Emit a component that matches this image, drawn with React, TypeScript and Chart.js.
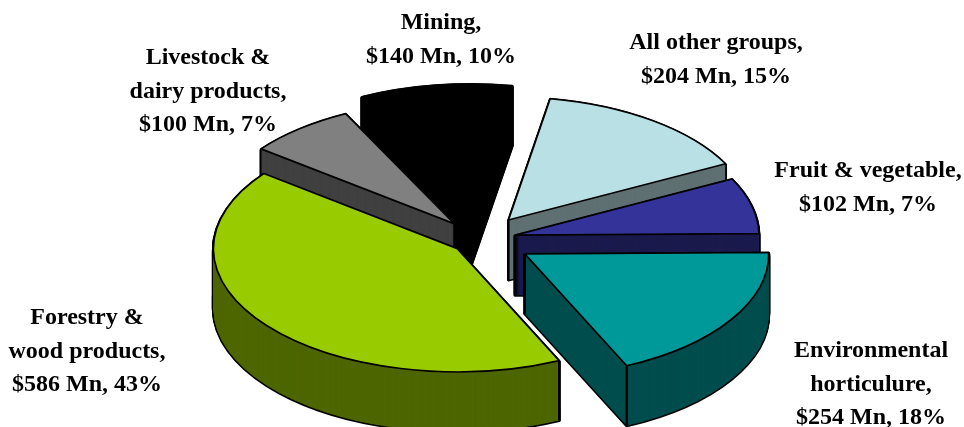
import React, { useEffect, useRef } from "react";
import { Chart, registerables } from "chart.js";

Chart.register(...registerables);

const categories = ["Mining", "All other groups", "Fruit & vegetable", "Environmental horticulure", "Forestry & wood products", "Livestock & dairy products"];
const values = [140, 204, 102, 254, 586, 100];
const percents = [10, 15, 7, 18, 43, 7];
const labelLines = [
  ["Mining,"],
  ["All other groups,"],
  ["Fruit & vegetable,"],
  ["Environmental", "horticulure,"],
  ["Forestry &", "wood products,"],
  ["Livestock &", "dairy products,"],
];
const topColors = ["#000000", "#B9E0E4", "#333399", "#009999", "#99CC00", "#808080"];
const sideColors = ["#000000", "#5F7072", "#1A1A4D", "#004D4D", "#4D6600", "#404040"];
const sliceOffsets = [65, 48, 36, 53, 29, 40];
const labelCenters = [[441, 23], [716, 43], [868, 171], [871, 351], [87, 318], [208, 58]];

const CX = 480, CY = 239.5, SQUASH = 0.505, DEPTH = 60, RADIUS = 244, LINE = 1.7, LEADING = 33.5;

const pie3d = {
  id: "pie3d",
  beforeDatasetDraw(chart: any, args: any) {
    const ctx = chart.ctx;
    const base = ctx.getTransform();
    const arcs: any[] = args.meta.data;
    const drawArc = (el: any, i: number, d: number, fill: string, stroke: string, lw: number) => {
      const off = el.options.offset;
      const mid = (el.startAngle + el.endAngle) / 2;
      const saved = el.options;
      const o = Object.create(saved);
      o.offset = 0;
      o.backgroundColor = fill;
      o.borderColor = stroke;
      o.borderWidth = lw > 0 ? 1 : 0;
      o.borderJoinStyle = "round";
      ctx.save();
      ctx.translate(CX, CY + d);
      ctx.scale(1, SQUASH);
      ctx.translate(-el.x, -el.y);
      ctx.translate(Math.cos(mid) * off, Math.sin(mid) * off);
      const original = ctx.stroke;
      ctx.stroke = function () {
        ctx.save();
        ctx.setTransform(base);
        ctx.lineWidth = lw;
        ctx.lineJoin = "round";
        original.call(ctx);
        ctx.restore();
      };
      el.options = o;
      el.draw(ctx);
      el.options = saved;
      delete ctx.stroke;
      ctx.restore();
    };
    const screenPoint = (el: any, angle: number | null) => {
      const off = el.options.offset;
      const mid = (el.startAngle + el.endAngle) / 2;
      const r = angle === null ? 0 : el.outerRadius;
      const a = angle === null ? 0 : angle;
      return [
        CX + Math.cos(mid) * off + Math.cos(a) * r,
        CY + (Math.sin(mid) * off + Math.sin(a) * r) * SQUASH,
      ];
    };
    const order = arcs
      .map((el, i) => ({ el, i, tipY: screenPoint(el, null)[1] }))
      .sort((a, b) => a.tipY - b.tipY);
    for (const { el, i } of order) {
      for (let d = DEPTH; d >= 1; d -= 1) drawArc(el, i, d, "#000000", "#000000", 3);
      for (let d = DEPTH; d >= 1; d -= 1) drawArc(el, i, d, sideColors[i], sideColors[i], 0);
      ctx.save();
      ctx.strokeStyle = "#000000";
      ctx.lineWidth = LINE + 0.6;
      for (const a of [null, el.startAngle, el.endAngle]) {
        // corners on the far half of the rim are hidden behind the slice itself
        if (a !== null && Math.sin(a) < 0) continue;
        const [x, y] = screenPoint(el, a);
        ctx.beginPath();
        ctx.moveTo(x, y);
        ctx.lineTo(x, y + DEPTH);
        ctx.stroke();
      }
      ctx.restore();
      drawArc(el, i, 0, topColors[i], "#000000", LINE);
    }
    return false;
  },
  afterDraw(chart: any) {
    const ctx = chart.ctx;
    ctx.save();
    ctx.font = 'bold 24px "Liberation Serif"';
    ctx.fillStyle = "#000000";
    ctx.textAlign = "center";
    ctx.textBaseline = "middle";
    labelLines.forEach((head, i) => {
      const lines = [...head, `$${values[i]} Mn, ${percents[i]}%`];
      lines.forEach((t, k) => ctx.fillText(t, labelCenters[i][0], labelCenters[i][1] + k * LEADING));
    });
    ctx.restore();
  },
};

export default function App() {
  const ref = useRef<HTMLCanvasElement>(null);
  useEffect(() => {
    const chart = new Chart(ref.current!, {
      type: "pie",
      data: {
        labels: categories,
        datasets: [{ data: values, backgroundColor: topColors, offset: sliceOffsets, borderWidth: 0 }],
      },
      options: {
        animation: false,
        responsive: false,
        rotation: -26.5,
        radius: RADIUS,
        layout: { padding: 0 },
        plugins: { legend: { display: false }, tooltip: { enabled: false } },
      } as any,
      plugins: [pie3d as any],
    });
    return () => chart.destroy();
  }, []);
  return (
    <div style={{ position: "fixed", left: 0, top: 0, width: 964, height: 427, background: "#fff" }}>
      <canvas ref={ref} width={964} height={427} style={{ display: "block", width: 964, height: 427 }} />
    </div>
  );
}
